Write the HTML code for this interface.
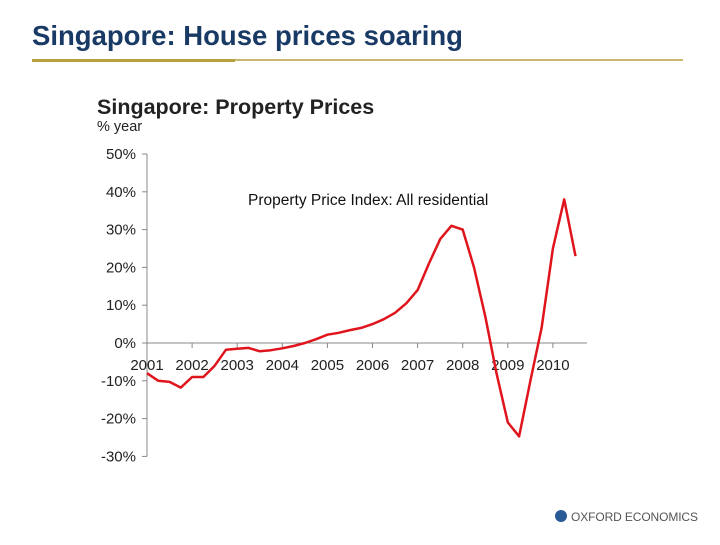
<!DOCTYPE html>
<html><head><meta charset="utf-8"><style>
body{margin:0;width:720px;height:540px;background:#fff;overflow:hidden;font-family:"Liberation Sans",Arial,sans-serif}
</style></head><body>
<svg width="720" height="540">
<text x="32" y="45" font-size="27.5" font-weight="bold" fill="#1a3a66">Singapore: House prices soaring</text>
<line x1="32" y1="60" x2="683" y2="60" stroke="#b8a040" stroke-width="1.5"/>
<line x1="32" y1="60.5" x2="235" y2="60.5" stroke="#b8a040" stroke-width="3"/>
<text x="97" y="114" font-size="21.5" font-weight="bold" fill="#222">Singapore: Property Prices</text>
<text x="97" y="131" font-size="14.5" fill="#222">% year</text>
<text x="248" y="205" font-size="15.5" fill="#111">Property Price Index: All residential</text>
<g id="axes"></g>
<path id="line" fill="none" stroke="#e0141c" stroke-width="2.5" stroke-linejoin="round"/>
<g>
<circle cx="561" cy="516" r="6" fill="#2a5a96"/>
<text x="571" y="521" font-size="12" fill="#555" textLength="127">OXFORD ECONOMICS</text>
</g>
</svg>
<script>
const years=[2001,2002,2003,2004,2005,2006,2007,2008,2009,2010];
const yTicks=[50,40,30,20,10,0,-10,-20,-30];
const startYear=2001;
const values=[-8,-10,-10.3,-11.8,-9,-9,-6,-1.8,-1.5,-1.3,-2.2,-1.9,-1.4,-0.8,0,1,2.2,2.7,3.4,4,5,6.3,8,10.5,14,21,27.5,31,30,20,7,-8,-21,-24.7,-10,4,25,38,23];
const NS="http://www.w3.org/2000/svg";
const X=y=>147+(y-2001)*45.1;
const Y=v=>343-v*3.78;
const g=document.getElementById('axes');
function mk(t,a){const e=document.createElementNS(NS,t);for(const k in a)e.setAttribute(k,a[k]);g.appendChild(e);return e;}
let ya=mk('line',{x1:147,y1:Y(50),x2:147,y2:Y(-30),stroke:'#888'});


let xa=mk('line',{x1:147,y1:Y(0),x2:587,y2:Y(0),stroke:'#888'});


yTicks.forEach(v=>{
 mk('line',{x1:142,y1:Y(v),x2:147,y2:Y(v),stroke:'#888'});
 const t=mk('text',{x:136,y:Y(v)+5,'font-size':15,'text-anchor':'end',fill:'#222'});
 t.textContent=v+'%';
 
 
});
years.forEach(y=>{
 mk('line',{x1:X(y),y1:Y(0),x2:X(y),y2:Y(0)+5,stroke:'#888'});
 const t=mk('text',{x:X(y),y:Y(0)+27,'font-size':15,'text-anchor':'middle',fill:'#222'});
 t.textContent=y;
 
 
});
document.getElementById('line').setAttribute('d',values.map((v,i)=>(i?'L':'M')+X(startYear+i*0.25).toFixed(1)+' '+Y(v).toFixed(1)).join(' '));
</script>
</body></html>
